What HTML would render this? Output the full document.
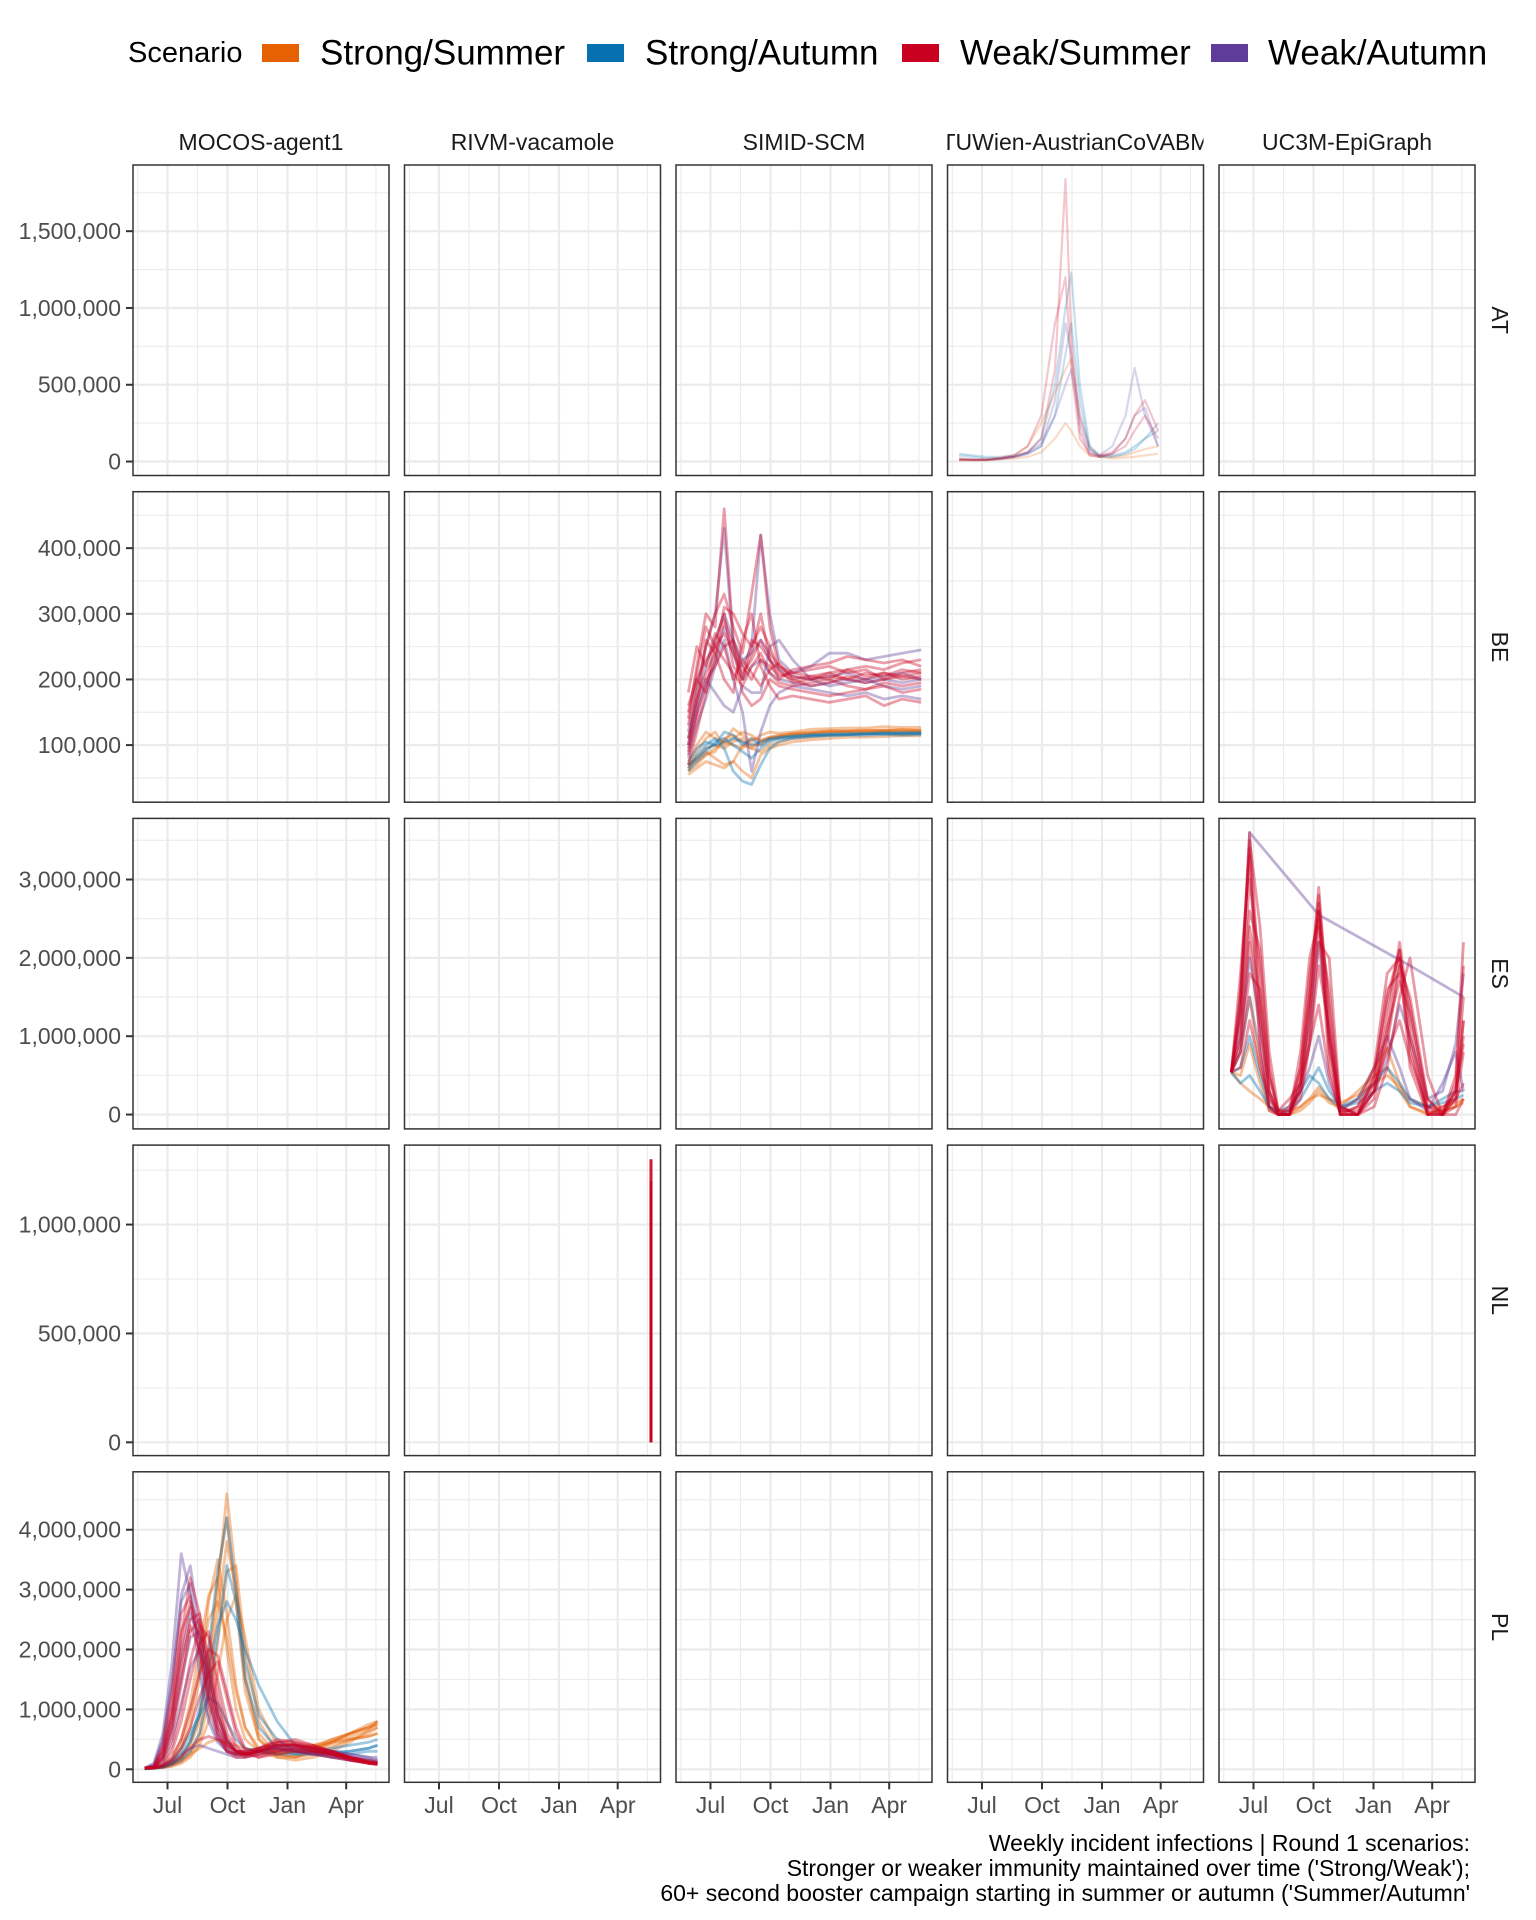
<!DOCTYPE html>
<html><head><meta charset="utf-8"><title>Weekly incident infections</title>
<style>
html,body{margin:0;padding:0;background:#fff;}
svg{display:block;font-family:"Liberation Sans",Arial,sans-serif;}
</style></head>
<body>
<svg id="chart" width="1536" height="1920" viewBox="0 0 1536 1920" xmlns="http://www.w3.org/2000/svg">
<rect x="0" y="0" width="1536" height="1920" fill="#fff"/>
<g id="legend"></g>
<g id="panels"></g>
<g id="caption" font-size="23" fill="#000" text-anchor="end">
  <text x="1470" y="1851">Weekly incident infections | Round 1 scenarios:</text>
  <text x="1470" y="1876">Stronger or weaker immunity maintained over time ('Strong/Weak');</text>
  <text x="1470" y="1901">60+ second booster campaign starting in summer or autumn ('Summer/Autumn'</text>
</g>
</svg>
<script>
// ---------- chart data ----------
const models = ["MOCOS-agent1","RIVM-vacamole","SIMID-SCM","TUWien-AustrianCoVABM","UC3M-EpiGraph"];
const countries = ["AT","BE","ES","NL","PL"];
const scenarios = ["Strong/Summer","Strong/Autumn","Weak/Summer","Weak/Autumn"];
const scenarioColors = ["#e66101","#0571b0","#ca0020","#5e3c99"];
const xTickLabels = ["Jul","Oct","Jan","Apr"];
const xTickDays = [0,92,184,274];
const xMinorDays = [-45.5,46,138,229,319.5];
const yTicksAT = [0,500000,1000000,1500000];
const yTicksBE = [100000,200000,300000,400000];
const yTicksES = [0,1000000,2000000,3000000];
const yTicksNL = [0,500000,1000000];
const yTicksPL = [0,1000000,2000000,3000000,4000000];
const yMinorAT = [250000,750000,1250000,1750000];
const yMinorBE = [50000,150000,250000,350000,450000];
const yMinorES = [500000,1500000,2500000,3500000];
const yMinorNL = [250000,750000,1250000];
const yMinorPL = [500000,1500000,2500000,3500000,4500000];
const yDomainAT = [-91000,1931000];
const yDomainBE = [13000,486000];
const yDomainES = [-183000,3780000];
const yDomainNL = [-61000,1365000];
const yDomainPL = [-217000,4967000];

// PL / MOCOS-agent1 (values in millions)
const plDays = [-35,-21,-7,7,21,35,49,63,77,91,105,119,140,168,196,224,252,280,308,322];
const plStrongSummer = [
 [0.01,0.02,0.05,0.1,0.2,0.4,0.8,1.6,3.0,4.6,3.2,1.5,0.5,0.2,0.15,0.2,0.3,0.45,0.65,0.8],
 [0.01,0.02,0.04,0.08,0.15,0.3,0.6,1.3,2.6,3.8,3.0,1.6,0.6,0.25,0.2,0.25,0.35,0.5,0.6,0.7],
 [0.01,0.02,0.05,0.12,0.3,0.7,1.5,2.8,3.5,2.6,1.4,0.7,0.3,0.2,0.2,0.3,0.4,0.5,0.55,0.6],
 [0.01,0.02,0.03,0.05,0.1,0.2,0.4,0.8,1.6,2.5,2.9,2.2,1.0,0.4,0.3,0.35,0.45,0.6,0.75,0.8],
 [0.01,0.02,0.04,0.08,0.15,0.25,0.35,0.45,0.5,0.45,0.4,0.35,0.3,0.3,0.35,0.4,0.45,0.5,0.55,0.6],
 [0.01,0.02,0.06,0.2,0.5,1.1,2.0,2.9,3.2,2.0,1.0,0.5,0.3,0.25,0.3,0.4,0.5,0.6,0.7,0.75],
 [0.01,0.02,0.04,0.1,0.2,0.45,0.9,1.8,3.2,4.2,2.8,1.3,0.5,0.25,0.2,0.3,0.45,0.6,0.7,0.75],
 [0.01,0.02,0.05,0.15,0.4,0.9,1.7,2.5,2.8,2.2,1.3,0.7,0.35,0.25,0.3,0.35,0.45,0.55,0.65,0.7],
 [0.01,0.02,0.03,0.06,0.12,0.25,0.5,1.1,2.1,3.3,3.4,2.0,0.8,0.3,0.25,0.35,0.5,0.6,0.7,0.8]];
const plStrongAutumn = [
 [0.01,0.02,0.05,0.1,0.25,0.5,1.0,2.0,3.3,4.2,3.0,1.8,0.9,0.5,0.3,0.25,0.25,0.3,0.35,0.4],
 [0.01,0.02,0.04,0.1,0.2,0.45,0.9,1.7,2.4,2.8,2.5,2.0,1.4,0.8,0.4,0.3,0.25,0.25,0.3,0.3],
 [0.01,0.02,0.05,0.15,0.35,0.6,0.9,1.2,1.1,0.8,0.5,0.35,0.3,0.25,0.25,0.25,0.3,0.3,0.35,0.4],
 [0.01,0.02,0.03,0.08,0.15,0.3,0.6,1.3,2.2,3.4,2.8,1.5,0.7,0.35,0.25,0.3,0.35,0.4,0.45,0.5]];
const plWeakSummer = [
 [0.02,0.04,0.3,1.0,2.2,3.2,2.6,1.5,0.7,0.35,0.25,0.25,0.3,0.4,0.4,0.35,0.3,0.2,0.12,0.1],
 [0.02,0.03,0.15,0.6,1.4,2.3,2.5,1.8,1.0,0.5,0.3,0.2,0.25,0.35,0.4,0.35,0.28,0.2,0.12,0.1],
 [0.02,0.02,0.08,0.3,0.8,1.5,2.1,2.3,1.5,0.8,0.4,0.25,0.2,0.3,0.35,0.3,0.25,0.18,0.1,0.08],
 [0.02,0.05,0.4,1.3,2.6,2.9,2.0,1.1,0.55,0.3,0.25,0.25,0.35,0.45,0.4,0.3,0.25,0.15,0.1,0.08],
 [0.02,0.02,0.05,0.15,0.35,0.7,1.2,1.6,1.8,1.2,0.6,0.3,0.2,0.25,0.3,0.3,0.25,0.2,0.12,0.1],
 [0.02,0.02,0.04,0.1,0.2,0.35,0.5,0.55,0.5,0.4,0.3,0.25,0.3,0.35,0.3,0.25,0.2,0.15,0.1,0.1],
 [0.02,0.03,0.2,0.8,1.8,2.4,2.0,1.2,0.6,0.3,0.2,0.2,0.3,0.45,0.5,0.4,0.3,0.2,0.15,0.12],
 [0.02,0.03,0.25,0.9,2.0,2.8,2.4,1.6,0.9,0.45,0.3,0.3,0.35,0.45,0.45,0.4,0.3,0.2,0.12,0.1],
 [0.02,0.04,0.35,1.1,2.3,2.7,2.2,1.4,0.8,0.4,0.3,0.28,0.35,0.5,0.45,0.35,0.25,0.15,0.1,0.08],
 [0.02,0.02,0.1,0.4,1.0,1.8,2.4,2.2,1.3,0.6,0.35,0.25,0.3,0.4,0.4,0.35,0.25,0.18,0.12,0.1],
 [0.02,0.03,0.2,0.7,1.6,2.5,2.6,1.9,1.1,0.5,0.3,0.25,0.3,0.4,0.42,0.38,0.3,0.2,0.12,0.1],
 [0.02,0.02,0.06,0.2,0.5,1.0,1.6,2.0,1.9,1.3,0.7,0.35,0.25,0.3,0.35,0.3,0.25,0.18,0.1,0.09]];
const plWeakAutumn = [
 [0.02,0.1,0.6,1.8,3.6,2.9,1.6,0.8,0.45,0.3,0.25,0.25,0.3,0.35,0.3,0.25,0.2,0.15,0.12,0.1],
 [0.02,0.05,0.3,0.9,1.9,2.6,2.2,1.3,0.7,0.4,0.3,0.3,0.35,0.4,0.35,0.3,0.25,0.2,0.15,0.12],
 [0.02,0.03,0.08,0.15,0.25,0.35,0.4,0.35,0.3,0.25,0.2,0.2,0.25,0.3,0.3,0.25,0.2,0.2,0.15,0.15],
 [0.02,0.08,0.5,1.5,2.8,3.1,1.9,0.9,0.5,0.3,0.25,0.25,0.3,0.35,0.3,0.28,0.2,0.15,0.12,0.1],
 [0.02,0.03,0.15,0.5,1.1,1.7,2.0,1.6,0.9,0.5,0.3,0.25,0.3,0.4,0.4,0.35,0.3,0.25,0.2,0.2],
 [0.02,0.06,0.45,1.4,2.9,3.4,2.3,1.2,0.6,0.35,0.25,0.25,0.3,0.35,0.35,0.3,0.25,0.2,0.15,0.1],
 [0.02,0.03,0.2,0.7,1.5,2.2,2.3,1.7,0.9,0.45,0.3,0.25,0.3,0.4,0.4,0.35,0.3,0.25,0.2,0.15]];

// BE / SIMID-SCM (values in thousands)
const beDays = [-34,-21,-7,7,21,35,49,63,77,91,105,126,154,182,210,238,266,294,323];
const beStrongSummer = [
 [60,70,85,95,105,100,95,110,108,112,115,118,120,122,122,123,122,124,122],
 [70,80,90,80,70,75,100,95,90,100,105,110,112,115,116,117,118,116,118],
 [65,90,110,120,100,110,120,115,105,110,112,115,117,119,120,120,121,120,121],
 [55,65,75,70,65,75,60,50,85,95,100,105,108,110,112,112,113,114,114],
 [70,100,120,110,105,125,115,105,115,120,118,120,124,125,126,126,128,127,127],
 [62,80,95,100,95,105,110,100,100,110,113,116,118,120,121,121,122,122,122],
 [68,75,85,90,110,115,105,95,105,112,114,117,119,121,121,122,123,123,123]];
const beStrongAutumn = [
 [60,75,90,105,110,100,90,80,95,105,110,112,114,115,116,117,118,118,118],
 [65,85,100,110,95,60,45,40,70,95,105,110,113,114,115,115,116,115,116],
 [75,95,105,100,120,115,100,110,100,108,110,113,115,116,116,117,117,118,118],
 [70,80,95,100,105,110,105,100,105,110,112,114,116,117,118,118,119,119,119]];
const beWeakSummer = [
 [140,220,300,280,460,260,200,240,300,230,210,200,190,195,205,200,210,205,200],
 [100,180,250,300,330,280,240,330,420,280,220,210,215,220,210,215,200,210,215],
 [160,200,180,230,290,250,180,160,170,200,190,185,180,175,180,185,190,180,185],
 [70,120,180,260,300,220,200,260,250,230,200,215,220,225,235,230,225,230,220],
 [180,250,220,270,250,200,230,210,190,215,225,200,205,210,200,195,200,205,210],
 [90,150,260,240,200,180,260,300,220,190,170,175,170,165,170,175,160,170,165],
 [130,200,230,250,270,240,210,230,260,240,220,205,200,210,215,205,210,200,205],
 [110,170,210,240,310,300,270,250,280,250,215,195,200,205,200,210,205,215,210],
 [150,210,280,250,230,210,190,220,240,210,195,190,195,200,190,185,195,190,195],
 [85,140,200,220,250,260,220,200,230,220,205,210,205,200,215,220,215,225,230]];
const beWeakAutumn = [
 [120,190,250,300,430,250,220,250,420,300,230,210,220,240,240,230,235,240,245],
 [100,160,200,180,160,150,190,180,180,250,260,230,200,190,195,200,190,185,190],
 [80,130,170,220,260,200,150,60,120,160,180,190,185,180,175,180,170,175,170],
 [110,170,220,260,300,260,230,240,260,230,215,205,200,205,210,200,205,210,200],
 [95,150,190,230,280,240,200,220,230,210,200,195,190,195,200,195,200,195,200]];

// ES / UC3M-EpiGraph (values in millions, null = no point)
const esDays = [-34,-20,-6,10,24,38,55,72,86,100,116,133,160,185,205,224,240,267,290,310,322];
const esStrongSummer = [
 [0.54,0.8,1.5,0.6,0.1,0.0,0.0,0.1,0.2,0.35,0.2,0.05,0.2,0.6,0.85,0.4,0.1,0.0,0.05,0.1,0.2],
 [0.54,0.5,0.9,0.4,0.05,0.0,0.0,0.05,0.15,0.3,0.15,0.1,0.3,0.5,0.6,0.3,0.1,0.02,0.05,0.1,0.15],
 [0.54,0.4,0.3,0.2,0.1,0.05,0.05,0.1,0.2,0.25,0.2,0.15,0.25,0.4,0.5,0.35,0.2,0.1,0.1,0.15,0.2]];
const esStrongAutumn = [
 [0.54,0.6,1.0,0.5,0.1,0.0,0.05,0.2,0.4,0.6,0.3,0.1,0.2,0.4,0.6,0.4,0.2,0.1,0.2,0.3,0.3],
 [0.54,0.4,0.5,0.3,0.1,0.05,0.1,0.3,0.5,0.4,0.2,0.1,0.15,0.3,0.4,0.3,0.15,0.1,0.15,0.2,0.25]];
const esWeakSummer = [
 [0.54,1.5,3.6,1.5,0.3,0.0,0.0,0.5,1.6,2.8,1.0,0.0,0.0,0.3,1.2,2.2,1.2,0.0,0.0,0.3,1.5],
 [0.54,1.2,2.6,2.1,0.6,0.02,0.0,0.3,1.2,2.7,1.4,0.05,0.0,0.5,1.5,2.1,0.8,0.0,0.0,0.1,0.8],
 [0.54,0.9,2.2,1.0,0.1,0.0,0.0,0.8,2.0,2.5,0.6,0.0,0.0,0.2,0.9,1.9,1.5,0.2,0.0,0.5,2.2],
 [0.54,1.8,3.3,0.8,0.05,0.0,0.1,0.6,1.5,2.9,1.2,0.0,0.1,0.6,1.8,2.0,0.6,0.0,0.1,0.2,0.4],
 [0.54,0.6,1.2,0.6,0.2,0.05,0.2,0.4,0.9,1.4,0.5,0.02,0.1,0.4,0.8,1.2,0.7,0.1,0.05,0.3,1.0],
 [0.54,1.4,3.5,2.4,0.8,0.05,0.0,0.2,0.9,2.2,2.0,0.1,0.0,0.1,0.6,1.5,2.0,0.5,0.0,0.0,0.2],
 [0.54,1.6,3.4,1.2,0.2,0.0,0.0,0.4,1.4,2.6,0.9,0.0,0.0,0.4,1.4,2.1,1.0,0.05,0.0,0.2,1.2],
 [0.54,1.3,3.0,1.9,0.5,0.0,0.0,0.6,1.8,2.6,0.8,0.0,0.0,0.3,1.0,2.0,1.4,0.1,0.0,0.4,1.9],
 [0.54,1.0,2.4,1.4,0.3,0.0,0.0,0.4,1.3,2.4,1.6,0.1,0.0,0.5,1.6,1.8,0.9,0.0,0.0,0.2,1.2],
 [0.54,0.8,1.8,1.6,0.5,0.05,0.05,0.3,0.9,1.9,1.1,0.05,0.05,0.3,1.1,1.7,1.3,0.2,0.0,0.3,0.9]];
const esWeakAutumn = [
 [0.54,1.3,3.6,null,null,null,null,null,null,2.55,null,null,null,null,null,null,1.9,null,null,null,1.5],
 [0.54,1.0,2.0,1.2,0.3,0.0,0.0,0.4,1.1,2.2,1.0,0.1,0.0,0.3,0.7,1.4,1.0,0.2,0.3,0.9,1.8],
 [0.54,0.8,1.5,0.8,0.1,0.0,0.05,0.3,0.6,1.0,0.4,0.05,0.2,0.6,1.0,0.6,0.2,0.05,0.4,0.8,0.3]];

// AT / TUWien-AustrianCoVABM (values in thousands)
const atDays = [-35,-14,7,28,49,70,91,112,128,137,150,165,180,200,220,234,250,270];
const atStrongSummer = [
 [10,10,10,20,40,100,250,450,600,670,300,100,40,30,40,60,80,100],
 [10,10,10,15,20,30,60,150,250,200,100,40,30,20,25,30,40,50]];
const atStrongAutumn = [
 [50,40,30,30,40,60,150,500,1000,1230,500,100,40,40,60,100,150,250],
 [40,30,20,20,30,50,100,300,700,900,400,80,30,30,50,80,150,200]];
const atWeakSummer = [
 [20,10,10,20,30,60,150,600,1840,800,200,40,30,50,100,200,300,150],
 [10,10,15,25,40,100,300,900,1200,600,150,50,40,60,150,300,400,200]];
const atWeakAutumn = [
 [20,15,10,15,30,50,100,400,900,700,300,80,40,100,300,610,300,100],
 [10,10,10,20,30,60,120,300,500,600,250,60,30,50,150,300,350,100]];

// NL / RIVM-vacamole (values in thousands)
const nlDays = [325,325];
const nlWeakSummer = [[0,1300],[0,1200],[0,1150]];

// ---------- layout ----------
const svgNS = "http://www.w3.org/2000/svg";
const PANEL_LEFT0 = 133, PANEL_STEP = 271.5, PANEL_W = 256;
const ROW_TOP0 = 165, ROW_STEP = 326.7, PANEL_H = 310.5;
const PX_PER_DAY = 60/92, JUL_OFFSET = 34.5;

function el(tag, attrs, parent){ const e=document.createElementNS(svgNS,tag); for(const k in attrs) e.setAttribute(k,attrs[k]); if(parent) parent.appendChild(e); return e; }
function xScale(col, d){ return PANEL_LEFT0 + PANEL_STEP*col + JUL_OFFSET + d*PX_PER_DAY; }
const yDomains = [yDomainAT,yDomainBE,yDomainES,yDomainNL,yDomainPL];
const yTicksAll = [yTicksAT,yTicksBE,yTicksES,yTicksNL,yTicksPL];
const yMinorAll = [yMinorAT,yMinorBE,yMinorES,yMinorNL,yMinorPL];
function yScale(row, v){ const dm=yDomains[row]; const top=ROW_TOP0+ROW_STEP*row; return top + (dm[1]-v)/(dm[1]-dm[0])*PANEL_H; }
function fmt(v){ return v.toLocaleString('en-US'); }

// ---------- legend ----------
const legend = document.getElementById('legend');
const lt = el('text',{x:128,y:53,'font-size':29,fill:'#000','dominant-baseline':'central'},legend);


lt.textContent='Scenario';
const swX=[262,587,902,1211], lbX=[320,645,960,1268];
scenarios.forEach((s,i)=>{
  const g = el('g',{},legend);
  
  
  const r = el('rect',{x:swX[i],y:44,width:37,height:18,fill:scenarioColors[i]},g);
  
  
  const t = el('text',{x:lbX[i],y:53,'font-size':35,fill:'#000','dominant-baseline':'central'},g);
  
  
  t.textContent=s;
});

// ---------- panels ----------
const panelsG = document.getElementById('panels');
const defs = el('defs',{},panelsG);

const panelData = {
  "0-3":{days:atDays,unit:1000,groups:[atStrongSummer,atStrongAutumn,atWeakAutumn,atWeakSummer],scen:[0,1,3,2]},
  "1-2":{days:beDays,unit:1000,groups:[beStrongSummer,beStrongAutumn,beWeakAutumn,beWeakSummer],scen:[0,1,3,2]},
  "2-4":{days:esDays,unit:1e6,groups:[esStrongSummer,esStrongAutumn,esWeakAutumn,esWeakSummer],scen:[0,1,3,2]},
  "3-1":{days:nlDays,unit:1000,groups:[nlWeakSummer],scen:[2]},
  "4-0":{days:plDays,unit:1e6,groups:[plStrongSummer,plStrongAutumn,plWeakAutumn,plWeakSummer],scen:[0,1,3,2]}
};
const lineOpacity = {"0-3":0.22,"1-2":0.38,"2-4":0.4,"3-1":0.9,"4-0":0.38};
const lineWidth = {"0-3":2.2,"1-2":2.8,"2-4":2.8,"3-1":3,"4-0":2.8};

models.forEach((m,c)=>{
  const x0 = PANEL_LEFT0+PANEL_STEP*c;
  const cp = el('clipPath',{id:'strip'+c},defs);
  el('rect',{x:x0,y:120,width:PANEL_W,height:40},cp);
  const t = el('text',{x:x0+PANEL_W/2,y:142,'font-size':23,fill:'#1a1a1a','text-anchor':'middle','dominant-baseline':'central','clip-path':'url(#strip'+c+')'},panelsG);
  
  
  t.textContent=m;
});
countries.forEach((cn,r)=>{
  const cy = ROW_TOP0+ROW_STEP*r+PANEL_H/2;
  const t = el('text',{x:1500,y:cy,'font-size':23,fill:'#1a1a1a','text-anchor':'middle','dominant-baseline':'central',transform:'rotate(90 1500 '+cy+')'},panelsG);
  
  
  t.textContent=cn;
});

for(let r=0;r<5;r++){
  for(let c=0;c<5;c++){
    const x0=PANEL_LEFT0+PANEL_STEP*c, y0=ROW_TOP0+ROW_STEP*r;
    const g = el('g',{},panelsG);
    
    
    el('rect',{x:x0,y:y0,width:PANEL_W,height:PANEL_H,fill:'#fff'},g);
    const cp = el('clipPath',{id:'cp'+r+'-'+c},defs);
    el('rect',{x:x0,y:y0,width:PANEL_W,height:PANEL_H},cp);
    const grid = el('g',{'clip-path':'url(#cp'+r+'-'+c+')'},g);
    
    
    yMinorAll[r].forEach(v=>{ const y=yScale(r,v); el('line',{x1:x0,x2:x0+PANEL_W,y1:y,y2:y,stroke:'#ebebeb','stroke-width':1.1},grid); });
    xMinorDays.forEach(d=>{ const x=xScale(c,d); el('line',{x1:x,x2:x,y1:y0,y2:y0+PANEL_H,stroke:'#ebebeb','stroke-width':1.1},grid); });
    yTicksAll[r].forEach(v=>{ const y=yScale(r,v); el('line',{x1:x0,x2:x0+PANEL_W,y1:y,y2:y,stroke:'#ebebeb','stroke-width':2.2},grid); });
    xTickDays.forEach(d=>{ const x=xScale(c,d); el('line',{x1:x,x2:x,y1:y0,y2:y0+PANEL_H,stroke:'#ebebeb','stroke-width':2.2},grid); });

    const key=r+'-'+c;
    const pd = panelData[key];
    if(pd){
      const lg = el('g',{'clip-path':'url(#cp'+key+')',fill:'none','stroke-width':lineWidth[key],'stroke-linejoin':'round'},g);
      
      
      pd.groups.forEach((grp,gi)=>{
        const si = pd.scen[gi];
        grp.forEach((vals,k)=>{
          let dstr='', pen=false;
          vals.forEach((v,i)=>{
            if(v===null||v===undefined) return;
            const x=xScale(c,pd.days[i]), y=yScale(r,v*pd.unit);
            dstr += (pen?'L':'M')+x.toFixed(1)+' '+y.toFixed(1)+' '; pen=true;
          });
          const p = el('path',{d:dstr,stroke:scenarioColors[si],'stroke-opacity':lineOpacity[key]},lg);
          
          
        });
      });
    }
    const border = el('rect',{x:x0,y:y0,width:PANEL_W,height:PANEL_H,fill:'none',stroke:'#333','stroke-width':1.5},g);
    
    

    if(c===0){
      yTicksAll[r].forEach(v=>{
        const y=yScale(r,v);
        el('line',{x1:x0-7,x2:x0,y1:y,y2:y,stroke:'#333','stroke-width':2},g);
        const t=el('text',{x:x0-12,y:y,'font-size':23,fill:'#4d4d4d','text-anchor':'end','dominant-baseline':'central'},g);
        
        
        t.textContent=fmt(v);
      });
    }
    if(r===4){
      xTickDays.forEach((d,i)=>{
        const x=xScale(c,d);
        el('line',{x1:x,x2:x,y1:y0+PANEL_H,y2:y0+PANEL_H+7,stroke:'#333','stroke-width':2},g);
        const t=el('text',{x:x,y:1805,'font-size':23,fill:'#4d4d4d','text-anchor':'middle','dominant-baseline':'central'},g);
        
        
        t.textContent=xTickLabels[i];
      });
    }
  }
}
</script>
</body></html>
